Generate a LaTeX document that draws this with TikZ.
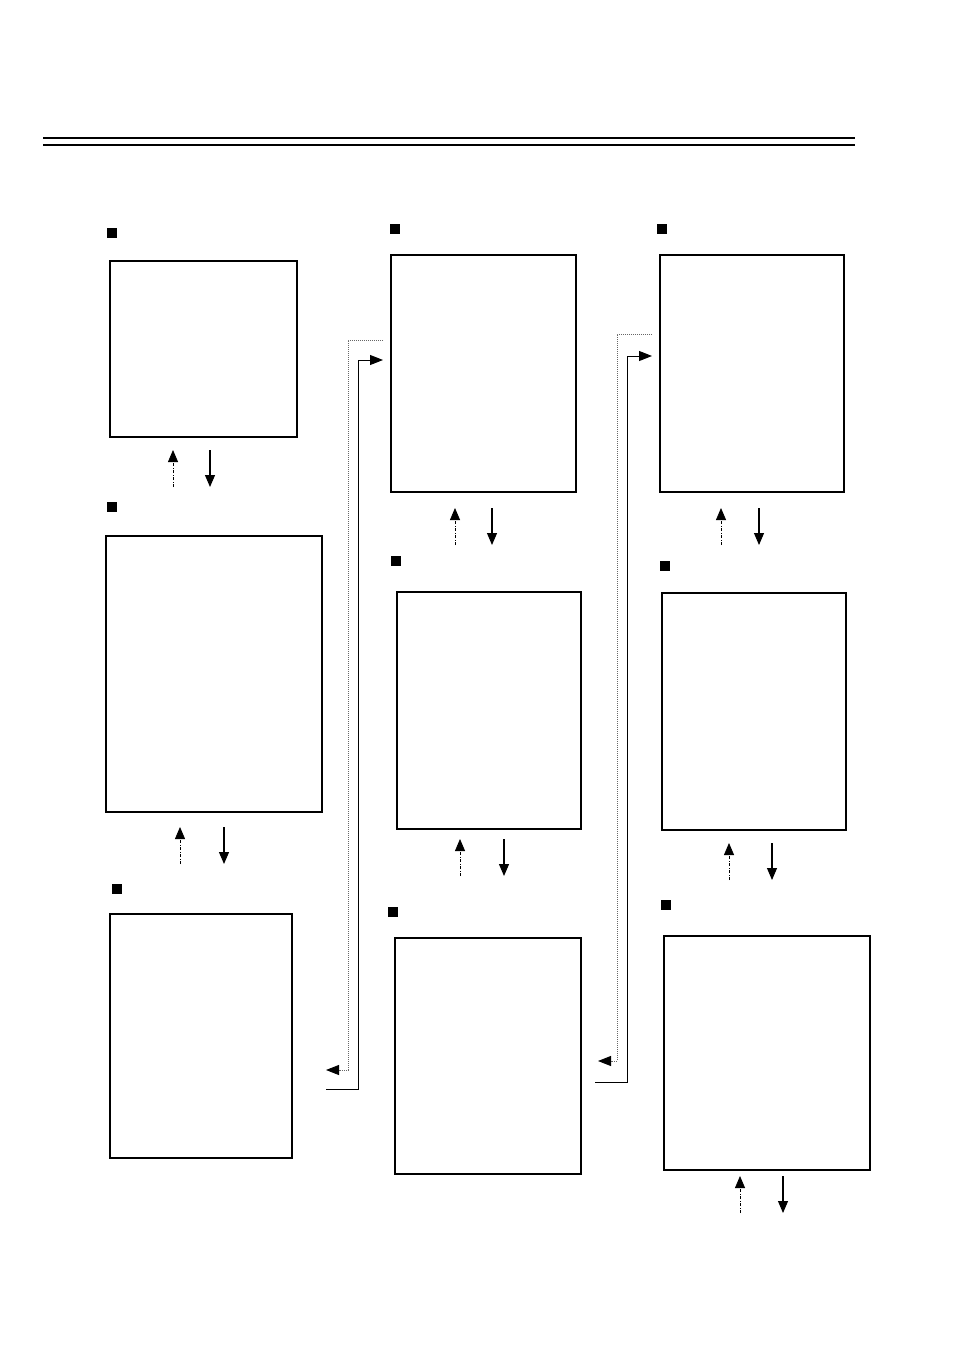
\documentclass[tikz,border=0pt]{standalone}
\usepackage{tikz}
\usetikzlibrary{arrows.meta}
\tikzstyle{panel}=[draw,line width=2.2pt,inner sep=0pt]
\tikzstyle{tag}=[fill=black,minimum size=10pt,inner sep=0pt]
\tikzstyle{fwd}=[draw,line width=1.1pt,-{Triangle[length=12pt,width=10pt]}]
\tikzstyle{back}=[draw,line width=0.8pt,dash pattern=on 3pt off 1.5pt on 1pt off 1.5pt,-{Triangle[length=12pt,width=10pt]}]
\tikzstyle{link}=[draw,line width=1pt,-{Triangle[length=13pt,width=10pt]}]
\tikzstyle{dotlink}=[draw,black!60,line width=0.9pt,dash pattern=on 1pt off 1pt,-{Triangle[length=13pt,width=10pt,color=black]}]

\begin{document}
\begin{tikzpicture}[x=1pt,y=-1pt]
    \useasboundingbox (0,0) rectangle (954,1351);
    % Double rule at the top
    \draw[line width=2pt] (43,138) -- (855,138);
    \draw[line width=2pt] (43,145) -- (855,145);
    % First we draw the panels
    \foreach \pos/\w/\h/\name in {{(203.5,349)/187/176/A}, {(214,674)/216/276/B},
        {(201,1036)/182/244/C}, {(483.5,373.5)/185/237/D}, {(489,710.5)/184/237/E},
        {(488,1056)/186/236/F}, {(752,373.5)/184/237/G}, {(754,711.5)/184/237/H},
        {(767,1053)/206/234/I}}
        \node[panel,minimum width=\w pt,minimum height=\h pt] (\name) at \pos {};
    % Black tags over the panels
    \foreach \pos/\name in {{(112,233)/tA}, {(112,507)/tB}, {(117,889)/tC},
        {(395,229)/tD}, {(396,561)/tE}, {(393,912)/tF},
        {(662,229)/tG}, {(665,566)/tH}, {(666,905)/tI}}
        \node[tag] (\name) at \pos {};
    % Up and down arrows under the panels
    \foreach \xu/\xd/\yt/\yb/\name in {173/210/450/487/a, 180/224/827/864/b,
        455/492/508/545/d, 460/504/839/876/e, 721/759/508/545/g,
        729/772/843/880/h, 740/783/1176/1213/i}
    {
        \coordinate (\name u1) at (\xu,\yb);
        \coordinate (\name u2) at (\xu,\yt);
        \coordinate (\name d1) at (\xd,\yt);
        \coordinate (\name d2) at (\xd,\yb);
        \path[back] (\name u1) -- (\name u2);
        \path[fwd] (\name d1) -- (\name d2);
    }
    % Links from one column to the next
    \coordinate (p1) at (383,340);
    \coordinate (p2) at (326,1070);
    \coordinate (q1) at (326,1089);
    \coordinate (q2) at (383,360);
    \coordinate (p3) at (652,334);
    \coordinate (p4) at (598,1061);
    \coordinate (q3) at (595,1082);
    \coordinate (q4) at (652,356);
    \path[dotlink] (p1) -- ++(-35,0) |- (p2);
    \path[link] (q1) -- ++(32,0) |- (q2);
    \path[dotlink] (p3) -- ++(-35,0) |- (p4);
    \path[link] (q3) -- ++(32,0) |- (q4);
\end{tikzpicture}
\end{document}
